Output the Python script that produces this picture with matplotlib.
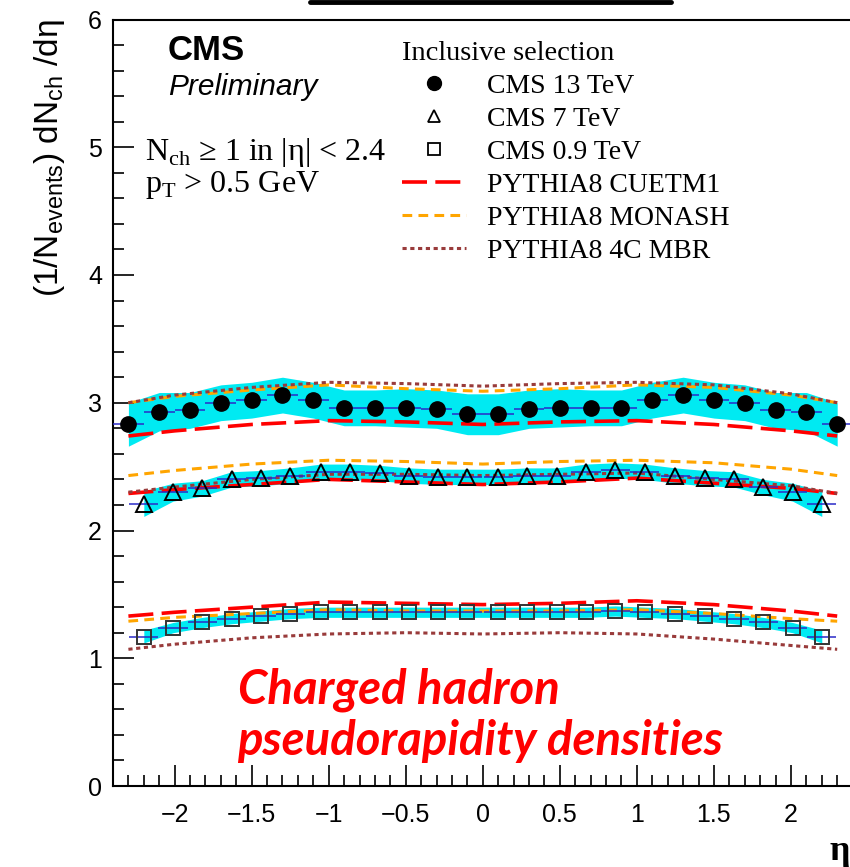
import matplotlib
matplotlib.use('Agg')
import matplotlib.pyplot as plt
from matplotlib.lines import Line2D
from matplotlib.ticker import MultipleLocator, FuncFormatter

plt.rcParams['lines.scale_dashes'] = False

# DATA

# CMS 13 TeV, bins of 0.2 in eta
eta13 = [-2.3, -2.1, -1.9, -1.7, -1.5, -1.3, -1.1, -0.9, -0.7, -0.5, -0.3, -0.1,
         0.1, 0.3, 0.5, 0.7, 0.9, 1.1, 1.3, 1.5, 1.7, 1.9, 2.1, 2.3]
dn13 = [2.83, 2.93, 2.94, 3.00, 3.02, 3.06, 3.02, 2.96, 2.96, 2.96, 2.95, 2.91,
        2.91, 2.95, 2.96, 2.96, 2.96, 3.02, 3.06, 3.02, 3.00, 2.94, 2.93, 2.83]
err13 = [0.17, 0.15, 0.14, 0.14, 0.14, 0.14, 0.14, 0.14, 0.14, 0.15, 0.15, 0.16,
         0.16, 0.15, 0.15, 0.14, 0.14, 0.14, 0.14, 0.14, 0.14, 0.14, 0.15, 0.17]

# CMS 7 TeV and 0.9 TeV share the same eta points
eta_lo = [-2.20, -2.01, -1.82, -1.63, -1.44, -1.25, -1.05, -0.86, -0.67, -0.48, -0.29, -0.10,
          0.10, 0.29, 0.48, 0.67, 0.86, 1.05, 1.25, 1.44, 1.63, 1.82, 2.01, 2.20]
dn7 = [2.21, 2.30, 2.33, 2.40, 2.41, 2.43, 2.46, 2.46, 2.45, 2.43, 2.42, 2.42,
       2.42, 2.43, 2.43, 2.46, 2.47, 2.46, 2.43, 2.41, 2.40, 2.34, 2.30, 2.21]
err7 = [0.10, 0.07, 0.06, 0.06, 0.06, 0.06, 0.06, 0.06, 0.06, 0.06, 0.06, 0.06,
        0.06, 0.06, 0.06, 0.06, 0.06, 0.06, 0.06, 0.06, 0.06, 0.06, 0.07, 0.10]
dn09 = [1.17, 1.24, 1.28, 1.31, 1.33, 1.35, 1.36, 1.36, 1.36, 1.36, 1.36, 1.36,
        1.36, 1.36, 1.36, 1.36, 1.37, 1.36, 1.35, 1.33, 1.31, 1.28, 1.24, 1.17]
err09 = [0.05, 0.04, 0.04, 0.04, 0.04, 0.04, 0.04, 0.04, 0.04, 0.04, 0.04, 0.04,
         0.04, 0.04, 0.04, 0.04, 0.04, 0.04, 0.04, 0.04, 0.04, 0.04, 0.04, 0.05]

# PYTHIA8 curves
eta_mc = [-2.3, -2.0, -1.5, -1.0, -0.5, 0.0, 0.5, 1.0, 1.5, 2.0, 2.3]
mc13_cuetm1 = [2.74, 2.78, 2.83, 2.86, 2.85, 2.83, 2.85, 2.86, 2.83, 2.78, 2.74]
mc13_monash = [3.00, 3.05, 3.10, 3.14, 3.11, 3.09, 3.11, 3.14, 3.12, 3.06, 3.00]
mc13_mbr = [3.00, 3.06, 3.12, 3.16, 3.15, 3.13, 3.15, 3.16, 3.14, 3.07, 3.00]
mc7_cuetm1 = [2.29, 2.32, 2.36, 2.40, 2.38, 2.36, 2.38, 2.41, 2.37, 2.33, 2.29]
mc7_monash = [2.43, 2.47, 2.52, 2.55, 2.54, 2.52, 2.54, 2.55, 2.53, 2.48, 2.43]
mc7_mbr = [2.30, 2.34, 2.40, 2.44, 2.44, 2.43, 2.44, 2.45, 2.40, 2.35, 2.29]
mc09_cuetm1 = [1.33, 1.36, 1.40, 1.44, 1.43, 1.42, 1.43, 1.45, 1.42, 1.37, 1.33]
mc09_monash = [1.29, 1.32, 1.35, 1.38, 1.37, 1.37, 1.37, 1.38, 1.35, 1.31, 1.29]
mc09_mbr = [1.07, 1.11, 1.16, 1.19, 1.20, 1.19, 1.20, 1.19, 1.15, 1.10, 1.07]

W, H = 850, 867
band_color = '#00eaf2'
blue = '#2a2ac8'
red = '#ff0000'
orange = '#ffa500'
brown = '#993b3b'

fig = plt.figure(figsize=(W / 100, H / 100), dpi=100)
# right edge of the frame sits just outside the picture, as in the reference
ax = fig.add_axes([113 / W, 81 / H, 739.6 / W, 766.5 / H])

# uncertainty bands
for eta, dn, err in [(eta13, dn13, err13), (eta_lo, dn7, err7), (eta_lo, dn09, err09)]:
    lo = [d - e for d, e in zip(dn, err)]
    hi = [d + e for d, e in zip(dn, err)]
    ax.fill_between(eta, lo, hi, color=band_color, lw=0, zorder=1)

# MC curves
for ys in [mc13_cuetm1, mc7_cuetm1, mc09_cuetm1]:
    l_cuetm1, = ax.plot(eta_mc, ys, color=red, lw=2.6, dashes=(18, 6), zorder=3)
for ys in [mc13_monash, mc7_monash, mc09_monash]:
    l_monash, = ax.plot(eta_mc, ys, color=orange, lw=2.2, dashes=(7, 4.5), zorder=3)
for ys in [mc13_mbr, mc7_mbr, mc09_mbr]:
    l_mbr, = ax.plot(eta_mc, ys, color=brown, lw=2.2, dashes=(3, 2.6), zorder=3)

# data points with horizontal bin bars
ax.errorbar(eta13, dn13, xerr=0.1, fmt='o', ms=11, color='k', ecolor=blue,
            elinewidth=1.1, capsize=0, zorder=4)
ax.errorbar(eta_lo, dn7, xerr=0.095, fmt='^', ms=12, mfc='none', mec='k', mew=1.4,
            ecolor=blue, elinewidth=1.1, capsize=0, zorder=4)
ax.errorbar(eta_lo, dn09, xerr=0.095, fmt='s', ms=10.5, mfc='none', mec='#333333', mew=1.4,
            ecolor=blue, elinewidth=1.1, capsize=0, zorder=4)

# axes styling
ax.set_xlim(-2.4, 2.4)
ax.set_ylim(0, 6)
ax.xaxis.set_major_locator(MultipleLocator(0.5))
ax.xaxis.set_minor_locator(MultipleLocator(0.1))
ax.yaxis.set_major_locator(MultipleLocator(1))
ax.yaxis.set_minor_locator(MultipleLocator(0.2))
ax.xaxis.set_major_formatter(FuncFormatter(lambda v, p: ('%g' % v).replace('-', '\u2212')))
ax.tick_params(which='both', direction='in', top=False, right=False, width=1.2)
ax.tick_params(which='major', length=15)
ax.tick_params(which='minor', length=8)
ax.tick_params(axis='y', pad=8)
ax.tick_params(axis='x', pad=12)
for lab in ax.get_xticklabels() + ax.get_yticklabels():
    lab.set_family('Liberation Sans')
    lab.set_fontsize(18)
for s in ax.spines.values():
    s.set_linewidth(1.5)

ax.set_ylabel(r'(1/N$_{\mathregular{events}}$) dN$_{\mathregular{ch}}$ /dη',
              fontsize=24, family='Liberation Sans', loc='top')
ax.yaxis.set_label_coords(-0.062, 1.0)

# legend
h13 = Line2D([], [], marker='o', ls='none', color='k', ms=10)
h7 = Line2D([], [], marker='^', ls='none', mfc='none', mec='k', mew=1.3, ms=9)
h09 = Line2D([], [], marker='s', ls='none', mfc='none', mec='k', mew=1.3, ms=8.5)
handles = [h13, h7, h09, l_cuetm1, l_monash, l_mbr]
labels = ['CMS 13 TeV', 'CMS 7 TeV', 'CMS 0.9 TeV',
          'PYTHIA8 CUETM1', 'PYTHIA8 MONASH', 'PYTHIA8 4C MBR']
ax.legend(handles, labels, title='Inclusive selection', loc='upper left',
          bbox_to_anchor=(402 / W, 1 - 41 / H), bbox_transform=fig.transFigure,
          frameon=False, prop={'family': 'Liberation Serif', 'size': 20},
          title_fontproperties={'family': 'Liberation Serif', 'size': 20.5},
          alignment='left', handlelength=2.3, handletextpad=0.75,
          labelspacing=0.27, borderpad=0, borderaxespad=0)

# text labels
def ftext(x, y, s, **kw):
    fig.text(x / W, 1 - y / H, s, va='baseline', **kw)

ftext(168, 60, 'CMS', fontsize=25, weight='bold', family='Liberation Sans')
ftext(168, 95, 'Preliminary', fontsize=21.5, style='italic', family='Liberation Sans')
ftext(145, 160, r'N$_{\mathregular{ch}}$ ≥ 1 in |η| < 2.4', fontsize=23, family='Liberation Serif')
ftext(145, 192, r'p$_{\mathregular{T}}$ > 0.5 GeV', fontsize=23, family='Liberation Serif')
ftext(238, 703, 'Charged hadron', fontsize=34, weight='bold', style='italic',
      family='Lato', color=red)
ftext(237, 755, 'pseudorapidity densities', fontsize=34, weight='bold', style='italic',
      family='Lato', color=red)
ftext(829, 860, 'η', fontsize=26, weight='bold', family='Liberation Serif')

# edge of the slide box above the plot
fig.add_artist(Line2D([310 / W, 671 / W], [1 - 1.5 / H] * 2, transform=fig.transFigure,
                      color='k', lw=3.5, solid_capstyle='round'))

plt.savefig('out.png', dpi=100)
